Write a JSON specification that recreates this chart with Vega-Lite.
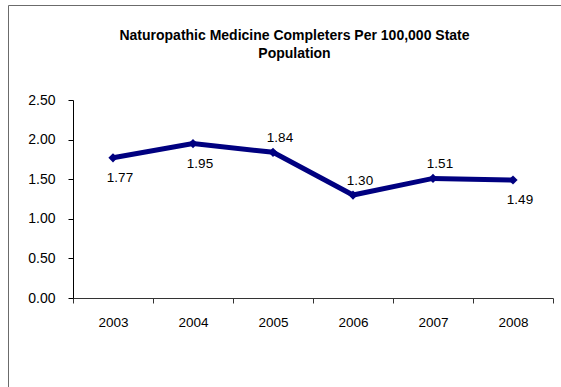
{
  "$schema": "https://vega.github.io/schema/vega-lite/v6.json",
  "width": 563,
  "height": 392,
  "autosize": {"type": "none"},
  "padding": {"left": 8, "top": 5, "right": -10, "bottom": -10},
  "background": "white",
  "config": {
    "view": {"stroke": "#6b6b6b", "strokeWidth": 1},
    "font": "Liberation Sans"
  },
  "title": {
    "text": ["Naturopathic  Medicine  Completers  Per  100,000  State", "Population"],
    "fontSize": 14,
    "fontWeight": "bold",
    "font": "Liberation Sans",
    "color": "black",
    "anchor": "middle",
    "baseline": "top",
    "offset": 0,
    "dy": 56,
    "dx": 5,
    "lineHeight": 18
  },
  "data": {
    "values": [
      {"year": "2003", "value": 1.77},
      {"year": "2004", "value": 1.95},
      {"year": "2005", "value": 1.84},
      {"year": "2006", "value": 1.30},
      {"year": "2007", "value": 1.51},
      {"year": "2008", "value": 1.49}
    ]
  },
  "encoding": {
    "x": {
      "field": "year",
      "type": "ordinal",
      "scale": {"type": "band", "range": [65, 545], "paddingInner": 0, "paddingOuter": 0},
      "axis": {
        "title": null,
        "labelAngle": 0,
        "tickBand": "extent",
        "offset": -99,
        "domainColor": "#333333",
        "tickColor": "#333333",
        "tickSize": 5,
        "labelFontSize": 13.5,
        "labelPadding": 12,
        "labelColor": "black",
        "labelFont": "Liberation Sans"
      }
    },
    "y": {
      "field": "value",
      "type": "quantitative",
      "scale": {"domain": [0, 2.5], "range": [293, 95], "nice": false},
      "axis": {
        "title": null,
        "values": [0, 0.5, 1, 1.5, 2, 2.5],
        "format": ".2f",
        "grid": false,
        "offset": -65,
        "domainColor": "black",
        "tickColor": "black",
        "tickSize": 5,
        "labelFontSize": 14,
        "labelPadding": 13,
        "labelColor": "black",
        "labelFont": "Liberation Sans"
      }
    }
  },
  "layer": [
    {"mark": {"type": "line", "color": "#000080", "strokeWidth": 5}},
    {"mark": {"type": "point", "shape": "diamond", "filled": true, "color": "#000080", "size": 85, "opacity": 1}},
    {
      "transform": [{"filter": {"field": "year", "oneOf": ["2003", "2004", "2008"]}}],
      "mark": {"type": "text", "dy": 20, "dx": 7, "fontSize": 13.5, "color": "black", "font": "Liberation Sans"},
      "encoding": {"text": {"field": "value", "type": "quantitative", "format": ".2f"}}
    },
    {
      "transform": [{"filter": {"field": "year", "oneOf": ["2005", "2006", "2007"]}}],
      "mark": {"type": "text", "dy": -14, "dx": 7, "fontSize": 13.5, "color": "black", "font": "Liberation Sans"},
      "encoding": {"text": {"field": "value", "type": "quantitative", "format": ".2f"}}
    }
  ]
}
